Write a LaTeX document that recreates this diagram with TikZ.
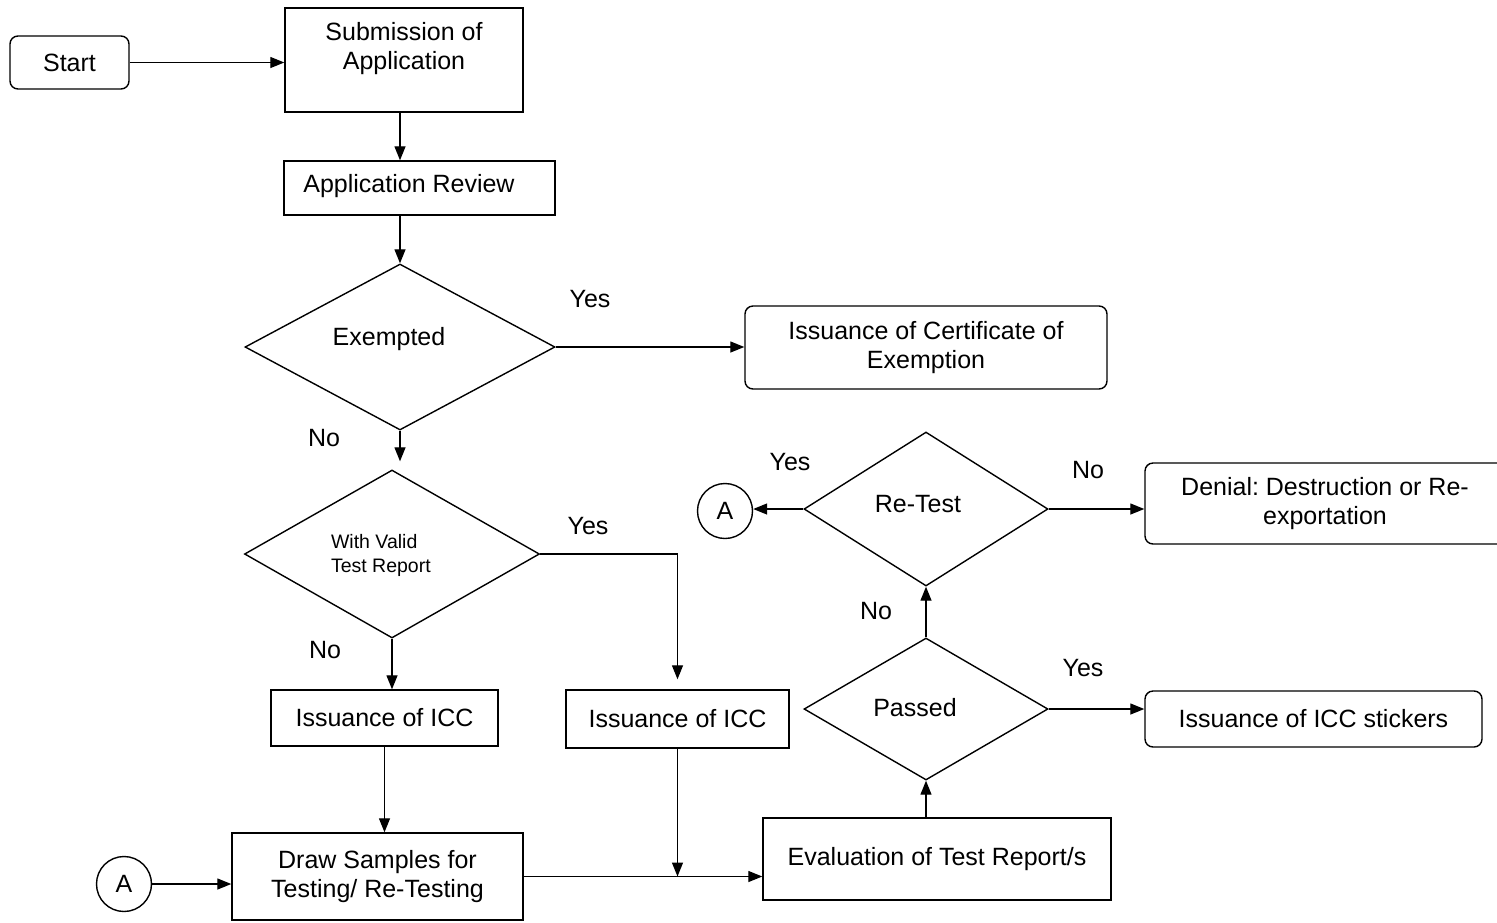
\documentclass[tikz,border=0pt]{standalone}
\usepackage{fontspec}
\setmainfont{Liberation Sans}
\usetikzlibrary{shapes.geometric,arrows.meta}
\frenchspacing
\newcommand{\bigtxt}{\fontsize{25}{28.5}\selectfont}
\newcommand{\smalltxt}{\fontsize{19.5}{24}\selectfont}

\begin{document}
\begin{tikzpicture}[x=1pt,y=-1pt,font=\bigtxt,line width=1.4pt,
    box/.style={draw, inner sep=0pt, align=center},
    rbox/.style={box, rounded corners=8pt},
    dec/.style={draw, diamond, inner sep=0pt},
    conn/.style={draw, circle, inner sep=0pt, minimum size=55pt},
    arr/.style={-{Triangle[length=14pt,width=11pt]}, line width=1.3pt}]
    \useasboundingbox (0,0) rectangle (1497,922);

    \node[rbox, minimum width=119, minimum height=53] (start) at (69.5,62.5) {Start};
    \node[box, minimum width=238, minimum height=104] (sub) at (404,60) {};
    \node[align=center] (subtxt) at (404,48.5) {Submission of\\Application};
    \node[box, minimum width=271, minimum height=54] (rev) at (419.5,188) {};
    \node (revtxt) at (409,186) {Application Review};

    \node[dec, minimum width=310, minimum height=166] (exm) at (400,347) {};
    \node (exmtxt) at (389,339) {Exempted};
    \node[rbox, minimum width=362, minimum height=83] (cert) at (926,347.5) {Issuance of Certificate of\\Exemption};

    \node[dec, minimum width=295, minimum height=168] (valid) at (392,554) {};
    \node[align=left, anchor=west, font=\smalltxt] (validtxt) at (327,555) {With Valid\\Test Report};
    \node[box, minimum width=227, minimum height=56] (icc1) at (384.5,718) {Issuance of ICC};
    \node[box, minimum width=223, minimum height=58] (icc2) at (677.5,719) {Issuance of ICC};
    \node[box, minimum width=291, minimum height=87] (draw) at (377.5,876.5) {Draw Samples for\\Testing/ Re-Testing};
    \node[conn] (ca) at (124,884) {A};

    \node[box, minimum width=348, minimum height=82] (eval) at (937,859) {Evaluation of Test Report/s};
    \node[dec, minimum width=244, minimum height=142] (pass) at (926,709) {};
    \node (passtxt) at (915,708) {Passed};
    \node[rbox, minimum width=337, minimum height=56] (stick) at (1313.5,719) {Issuance of ICC stickers};
    \node[dec, minimum width=244, minimum height=154] (retest) at (926,509) {};
    \node (retesttxt) at (918,504) {Re-Test};
    \node[conn] (cb) at (725,511) {A};
    \node[rbox, minimum width=360, minimum height=81] (deny) at (1325,503.5) {Denial: Destruction or Re-\\exportation};

    \node (y1) at (590,299) {Yes};
    \node (n1) at (324,438) {No};
    \node (y2) at (588,526) {Yes};
    \node (n2) at (325,650) {No};
    \node (y3) at (790,462) {Yes};
    \node (n3) at (1088,470) {No};
    \node (n4) at (876,611) {No};
    \node (y4) at (1083,668) {Yes};

    \draw[arr] (start.east) -- (start.east -| sub.west);
    \draw[arr] (exm.north |- sub.south) -- (exm.north |- rev.north);
    \draw[arr] (exm.north |- rev.south) -- (exm.north);
    \draw[arr] (exm.east) -- (exm.east -| cert.west);
    \draw[arr, shorten >=8pt] (exm.south) -- (exm.south |- valid.north);
    \draw[arr] (valid.south) -- (valid.south |- icc1.north);
    \draw[arr, shorten >=10pt] (valid.east) -| (icc2.north);
    \draw[arr] (icc1.south) -- (icc1.south |- draw.north);
    \draw[arr] (ca.east) -- (ca.east -| draw.west);
    \draw[arr] (draw.east) -- (draw.east -| eval.west);
    \draw[arr] (icc2.south) -- (icc2.south |- draw.east);
    \draw[arr] (pass.south |- eval.north) -- (pass.south);
    \draw[arr] (pass.east) -- (pass.east -| stick.west);
    \draw[arr] (pass.north) -- (retest.south);
    \draw[arr] (retest.west) -- (retest.west -| cb.east);
    \draw[arr] (retest.east) -- (retest.east -| deny.west);
\end{tikzpicture}
\end{document}
